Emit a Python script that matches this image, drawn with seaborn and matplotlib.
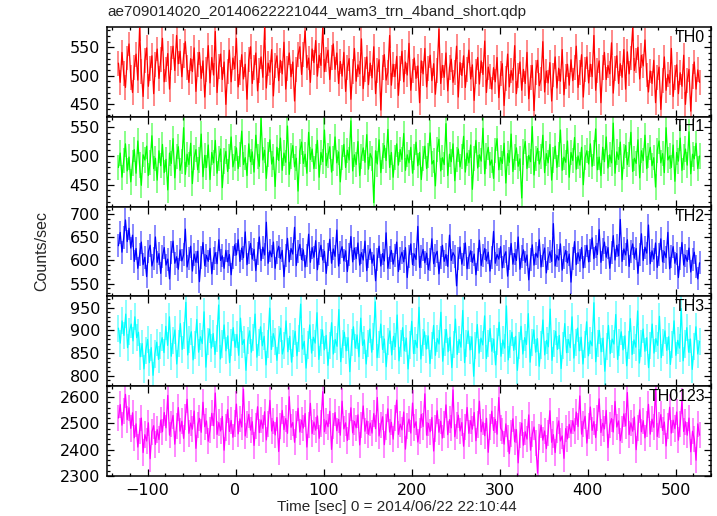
import numpy as np
import pandas as pd
import matplotlib
matplotlib.use("Agg")
import matplotlib.pyplot as plt
import seaborn as sns
from matplotlib.ticker import MultipleLocator

# ---------------- data (2 s sampling) ----------------
t_start, t_stop = -133, 527

th0 = [522, 488, 541, 503, 479, 531, 556, 497, 470, 515, 538, 492, 584, 507, 463, 526, 549, 481, 512, 535, 468, 520,
       547, 495, 528, 566, 489, 510, 539, 476, 531,
       552, 509, 571, 521, 543, 498, 536, 560, 514,
       488, 530, 507, 549, 472, 519, 541, 495, 526, 462, 510, 553, 487, 532, 501, 578, 470, 516, 538, 493, 524, 449,
       507, 545, 489, 531, 512, 566, 480, 505, 537, 494, 520, 458, 528, 551, 486, 515, 540, 473, 509, 533, 497, 585,
       478, 522, 506, 546, 464, 518, 535, 491, 527, 503, 559, 476, 513, 540, 498, 524, 455, 510, 537,
       551, 502, 538, 579, 514, 531, 488, 547, 523, 562, 499, 536, 518, 584, 507, 529, 545, 493, 532, 556, 511, 540,
       486, 525, 499, 541, 472, 514, 530, 458, 507, 548, 490, 519, 503, 565, 477, 511, 533, 484, 522, 496, 551, 468,
       509, 528, 439, 515, 537, 492, 506, 571, 483, 520, 498, 534, 465, 512, 543, 489, 524, 501, 557, 474, 508, 531,
       495, 517, 452, 526, 503, 548, 480, 513, 536, 491, 521, 467, 509, 582, 486, 518, 497, 540, 473, 514, 529, 488,
       505, 552, 462, 523, 500, 535, 479, 511, 545, 494, 519, 456, 507, 532, 485, 526, 502, 561, 470, 515, 498,
       476, 514, 489, 532, 461, 503, 521, 447, 495, 538, 480, 509, 492, 553, 468, 500, 524, 474, 511, 486, 541, 459,
       497, 518, 438, 505, 527, 482, 494, 560, 471, 508, 487, 523, 455, 501, 533, 478, 513, 490, 546, 466, 499, 520, 483,
       528, 491, 515, 552, 479, 506, 537, 462, 511, 533, 487, 520, 498, 571, 474, 509, 526, 452, 514, 541, 493, 518,
       503, 558, 469, 512, 535, 486, 521, 497, 546, 476,
       542, 503, 531, 584, 509, 527, 550, 494, 536, 517, 563, 501,
       471, 508, 486, 527, 452, 496, 515, 440, 491, 533, 474, 502, 487, 548, 463, 497, 519, 468, 505, 481, 536, 449,
       492, 511, 437, 499, 524, 476, 510, 488]

th1 = [480, 505, 463, 492, 521, 474, 498, 455, 488, 511, 470, 526, 484, 449, 502, 493, 517, 466, 489, 535, 478, 496,
       458, 509, 483, 520, 471, 494, 441, 505, 487, 530, 462, 499, 516, 475, 490, 549, 468, 503, 485, 522, 452, 497,
       511, 476, 493, 538, 464, 501, 480, 519, 459, 506, 488, 527, 470, 495, 512, 445, 491, 508, 473, 499, 533, 481, 496,
       514, 478, 502, 543, 485, 497, 466, 521, 490, 507, 472, 536, 499, 482, 565, 493, 510, 461, 503, 528, 486, 498,
       447, 515, 492, 531, 475, 505, 489, 552, 468, 500, 518, 481, 496, 439, 508, 524, 487, 503, 470, 541, 494, 512,
       478, 499, 527, 463, 506, 490, 545, 483, 501, 516, 472, 495, 533, 488, 507, 455, 497, 520, 480, 510, 493, 561,
       474, 502, 485, 525, 466, 499, 514, 489, 537, 477, 504, 495, 419, 509, 486, 528, 471, 500, 518, 492, 546, 480,
       506, 463, 497, 521, 484, 511, 494, 539, 475, 502, 488, 515,
       470, 498, 524, 483, 506, 459, 495, 517, 478, 501, 540, 486, 492, 448, 511, 529, 474, 497, 485, 556, 466, 503,
       490, 521, 457, 494, 512, 481, 499, 534, 472, 505, 488, 519, 442, 496, 527, 479, 502, 491, 548, 469, 500, 515,
       484, 493, 461, 510, 530, 476, 497, 487, 522, 453, 504, 489, 538, 473, 498, 514, 482, 495, 427, 507, 525, 478,
       501, 490, 551, 467, 496, 513, 486, 499, 536, 471, 504, 488, 520, 458, 493, 517, 480, 502, 545, 475, 498, 489,
       526, 463, 506, 492, 532, 477, 500, 484, 515, 450, 497, 509, 486,
       521, 482, 505, 547, 476, 498, 466, 515, 490, 533, 479, 502, 488, 557, 470, 507, 494, 524, 459, 499, 518, 485,
       503, 541, 473, 496, 487, 528, 462, 509, 492, 536, 478, 501, 515, 483, 497, 446, 510, 526, 488, 504, 471, 549,
       493, 500, 480, 519, 456, 506, 491, 531, 475, 498, 512, 484, 542, 469, 503, 495, 522, 478, 500]

th2 = [632, 661, 618, 650, 688, 641, 670, 627, 655,
       598, 626, 583, 612, 640, 591, 607, 565, 619, 633, 588, 604, 651, 596, 615, 572, 609, 628, 590, 603, 560, 617,
       642, 594, 608, 581, 623, 599, 612, 668, 586, 605, 631, 577, 614, 596, 620, 554, 607, 639, 589, 611, 598, 626,
       571, 604, 617, 593, 645, 600, 610, 583, 622, 597, 613, 569, 606, 634,
       612, 645, 598, 627, 606, 662, 591, 618, 637, 603, 624, 578, 615, 651, 600, 629, 612, 683, 594, 621, 608, 640,
       583, 617, 631, 604, 622, 565, 611, 648, 597, 626, 614, 672, 589, 619, 635, 602, 623, 586, 610, 657, 596, 628,
       607, 643, 580, 616, 633, 601, 620, 572, 613, 646, 594, 625, 609, 666, 588, 618, 630, 599, 621, 576, 612, 652,
       597, 627, 604, 638,
       590, 617, 601, 642, 578, 609, 625, 594, 612, 556, 603, 631, 588, 615, 599, 660, 583, 607, 622, 592, 611, 640,
       576, 605, 618, 597, 628, 563, 609, 636, 591, 614, 602, 674, 585, 608, 624, 595, 616, 580, 603, 647, 593, 611,
       620, 571, 606, 633, 598, 613, 587, 655, 600, 617, 609, 545, 604, 629, 592, 612, 638, 582, 607, 621, 596, 614,
       569, 602, 644, 589, 610, 626, 599, 618, 577, 606, 663, 594, 613, 603, 630, 584, 609, 619, 566, 605, 637, 592,
       615, 600, 651, 581, 608, 623, 596, 612, 558, 603, 634, 590, 616, 607, 645, 586, 610, 627, 573, 604, 619, 598,
       680, 588, 611, 601, 636, 579, 607, 622, 595, 614, 553, 605, 641, 591, 617, 599, 628, 584, 609, 633, 597,
       622, 649, 604, 631, 613, 667, 596, 624, 640, 607, 628, 583, 617, 654, 601, 633, 610, 689, 598, 625, 612, 645,
       587, 620, 636, 605, 626, 572, 614, 658, 600, 629, 616, 677, 593, 621, 603, 638, 585, 612, 647, 597, 619, 606,
       661, 582, 609, 630, 594, 615, 563, 604, 639, 590, 611, 598, 627, 575, 603, 618, 586, 560, 595]

th3 = [905, 872, 921, 889, 936, 862, 898, 914, 877, 930, 884, 896,
       842, 871, 815, 856, 880, 829, 862, 801, 848, 874, 836, 866,
       884, 851, 909, 867, 930, 843, 878, 901, 826, 872, 915, 858, 889, 962, 846, 880, 897, 835, 868, 924, 852, 886,
       871, 941, 819, 876, 903, 861, 893, 847, 882, 956, 837, 870, 912, 855, 888, 829, 874, 906, 863, 891, 845, 927,
       869, 880, 812, 877, 899, 852, 884, 936, 841, 873, 908, 866, 887, 824, 870, 949, 858, 893, 876, 834,
       879, 905, 848, 866, 921, 853, 887, 830, 871, 898, 844, 882, 958, 859, 876, 817, 868, 912, 850, 885, 872, 939,
       836, 874, 901, 857, 889, 823, 866, 917, 848, 880, 865, 946, 831, 870, 896, 855, 884, 809, 873, 908, 861, 890,
       842, 927, 867, 879, 826, 872, 903, 852, 886, 963, 840, 869, 914, 858, 881, 820, 875, 899, 846, 887, 864, 934,
       833, 871, 906, 855, 883, 815, 868, 920, 849, 878, 862, 951, 837, 873, 897, 859, 888, 827, 866, 911, 845, 882,
       870, 940, 832, 874, 902, 853, 885, 818, 869, 925, 847, 880, 863, 944, 829, 872, 899, 857, 886, 799, 867, 913,
       850, 883, 868, 932, 838, 871, 904, 854, 881, 824, 875, 918, 843, 879, 861, 954, 835, 870, 896, 856, 887, 812,
       866, 909, 848, 884, 869, 937, 830, 873, 901, 852, 882, 821, 868, 923, 846, 878, 864, 947, 834, 871, 898, 858,
       889, 816, 867, 915, 851, 880, 862, 930, 839, 874, 905, 855, 885, 826, 869, 919, 844, 877, 866, 961, 831, 872,
       900, 853, 883, 810, 865, 911, 849, 881, 870, 935, 836, 873, 897, 857, 888, 822, 868, 926, 847, 879, 863, 943,
       828, 871, 903, 854, 884, 818, 866, 914, 850, 882, 867, 931, 840, 874, 899, 856, 886, 825, 869, 921, 845, 878,
       861, 948, 833, 870, 906, 852, 881, 814, 864, 908, 848, 876]

th0123 = [2520, 2571, 2493, 2548, 2610, 2514, 2559, 2481, 2540,
          2445, 2498, 2410, 2471, 2520, 2389, 2457, 2433, 2502, 2366, 2468, 2491, 2420, 2476, 2438,
          2512, 2468, 2541, 2483, 2606, 2455, 2497, 2530, 2421, 2489, 2560, 2470, 2508, 2443, 2523, 2591, 2462, 2501,
          2478, 2547, 2405, 2494, 2519, 2466, 2580, 2487, 2509, 2432, 2475, 2538, 2491, 2615, 2458, 2503, 2471, 2526,
          2398, 2484, 2552, 2469, 2511, 2447, 2499, 2573, 2460, 2517, 2486, 2630, 2452, 2495, 2534, 2474, 2506, 2416,
          2490, 2563, 2465, 2513, 2481, 2544, 2437, 2498, 2587, 2471, 2508, 2456, 2522, 2393, 2489, 2549, 2476, 2518,
          2462, 2601, 2485, 2503, 2428, 2496, 2557, 2467, 2512, 2482, 2537, 2410, 2493, 2576, 2461, 2505, 2474, 2528,
          2443, 2499, 2620, 2468, 2510, 2487, 2546, 2401, 2491, 2541, 2472, 2515, 2455, 2584, 2479, 2502, 2435, 2488,
          2559, 2464, 2507, 2483, 2532, 2418, 2494, 2566, 2470, 2509, 2458,
          2501, 2463, 2537, 2480, 2598, 2452, 2494, 2525, 2419, 2486, 2555, 2467, 2504, 2440, 2519, 2588, 2458, 2497,
          2475, 2543, 2402, 2490, 2516, 2463, 2577, 2484, 2506, 2429, 2472, 2534, 2488, 2612, 2455, 2500, 2468, 2522,
          2395, 2481, 2548, 2466, 2508, 2444, 2496, 2570, 2457, 2514, 2483, 2627, 2449, 2492, 2531, 2471, 2503, 2413,
          2487, 2560, 2462, 2510, 2478, 2541, 2434, 2495, 2584, 2468, 2505, 2453, 2519, 2390, 2486, 2546, 2473, 2515,
          2459, 2598, 2482,
          2470, 2421, 2498, 2443, 2385, 2462, 2517, 2430, 2476, 2350, 2455, 2501, 2417, 2468, 2440, 2532, 2398, 2459,
          2486, 2425, 2311, 2448, 2493, 2436, 2471, 2404, 2463, 2548, 2428, 2457, 2389, 2474, 2509, 2433, 2452, 2367,
          2480, 2441, 2496, 2462,
          2510, 2471, 2543, 2488, 2604, 2459, 2498, 2527, 2425, 2490, 2562, 2473, 2507, 2446, 2521, 2593, 2465, 2500,
          2479, 2549, 2408, 2493, 2518, 2467, 2583, 2486, 2509, 2434, 2476, 2536, 2490, 2617, 2457, 2502, 2470, 2524,
          2400, 2483, 2551, 2468, 2510, 2445, 2497, 2572, 2459, 2516, 2485, 2631, 2450, 2494, 2533, 2473, 2505, 2414,
          2489, 2561, 2463, 2512, 2480, 2543, 2436, 2497, 2586, 2469, 2506, 2455, 2520, 2392, 2470, 2440, 2360, 2498,
          2455]

band_names = ["TH0", "TH1", "TH2", "TH3", "TH0123"]
band_errors = [22, 22, 25, 30, 50]          # typical 1-sigma error per bin (counts/sec)
band_colors = ["#ff0000", "#00ff00", "#0000ff", "#00ffff", "#ff00ff"]
y_limits = [(427, 586), (412, 568), (522, 717), (777, 975), (2300, 2641)]
y_majors = [50, 50, 50, 50, 100]
y_minors = [10, 10, 10, 10, 20]
series = [th0, th1, th2, th3, th0123]

title = "ae709014020_20140622221044_wam3_trn_4band_short.qdp"
x_label = "Time [sec] 0 = 2014/06/22 22:10:44"
y_label = "Counts/sec"

# ---------------- figure ----------------
sns.set_theme(style="ticks")
plt.rcParams["font.family"] = ["Liberation Sans", "DejaVu Sans"]

W, H = 717, 516
fig = plt.figure(figsize=(W / 100, H / 100), dpi=100)
left, right = 107 / W, 711 / W
top, bottom = 1 - 27 / H, 1 - 476 / H
gs = fig.add_gridspec(5, 1, left=left, right=right, top=top, bottom=bottom, hspace=0)

axes = []
for i in range(5):
    ax = fig.add_subplot(gs[i], sharex=axes[0] if axes else None)
    axes.append(ax)
    vals = np.asarray(series[i], dtype=float)
    t = np.linspace(t_start, t_stop, len(vals))
    df = pd.DataFrame({"t": t, "rate": vals})
    ax.errorbar(df["t"], df["rate"], yerr=band_errors[i], fmt="none",
                ecolor=band_colors[i], elinewidth=1.3, alpha=0.5, zorder=2)
    sns.lineplot(data=df, x="t", y="rate", ax=ax, color=band_colors[i],
                 linewidth=0.9, zorder=3, estimator=None)
    ax.set_ylim(*y_limits[i])
    ax.set_xlim(-146, 540)
    ax.yaxis.set_major_locator(MultipleLocator(y_majors[i]))
    ax.yaxis.set_minor_locator(MultipleLocator(y_minors[i]))
    ax.xaxis.set_major_locator(MultipleLocator(100))
    ax.xaxis.set_minor_locator(MultipleLocator(20))
    ax.tick_params(which="both", direction="in", top=True, right=True,
                   colors="black", width=0.9)
    ax.tick_params(which="major", length=5, pad=5)
    ax.tick_params(which="minor", length=2.5)
    for lab in ax.get_xticklabels() + ax.get_yticklabels():
        lab.set_fontfamily(["DejaVu Sans"])
        lab.set_fontsize(11.5)
    ax.set_xlabel("")
    ax.set_ylabel("")
    for sp in ax.spines.values():
        sp.set_color("black")
        sp.set_linewidth(1.1)
    ax.text(0.99, 0.97, band_names[i], transform=ax.transAxes, ha="right", va="top",
            fontsize=11.5, color="black")
    if i < 4:
        ax.tick_params(labelbottom=False)

fig.text(left, 1 - 12 / H, title, ha="left", va="center", fontsize=11)
fig.text(397 / W, 1 - 507 / H, x_label, ha="center", va="center", fontsize=11)
fig.text(42 / W, 1 - 251 / H, y_label, ha="center", va="center", rotation=90, fontsize=11.5)

fig.savefig("out.png", dpi=100)
